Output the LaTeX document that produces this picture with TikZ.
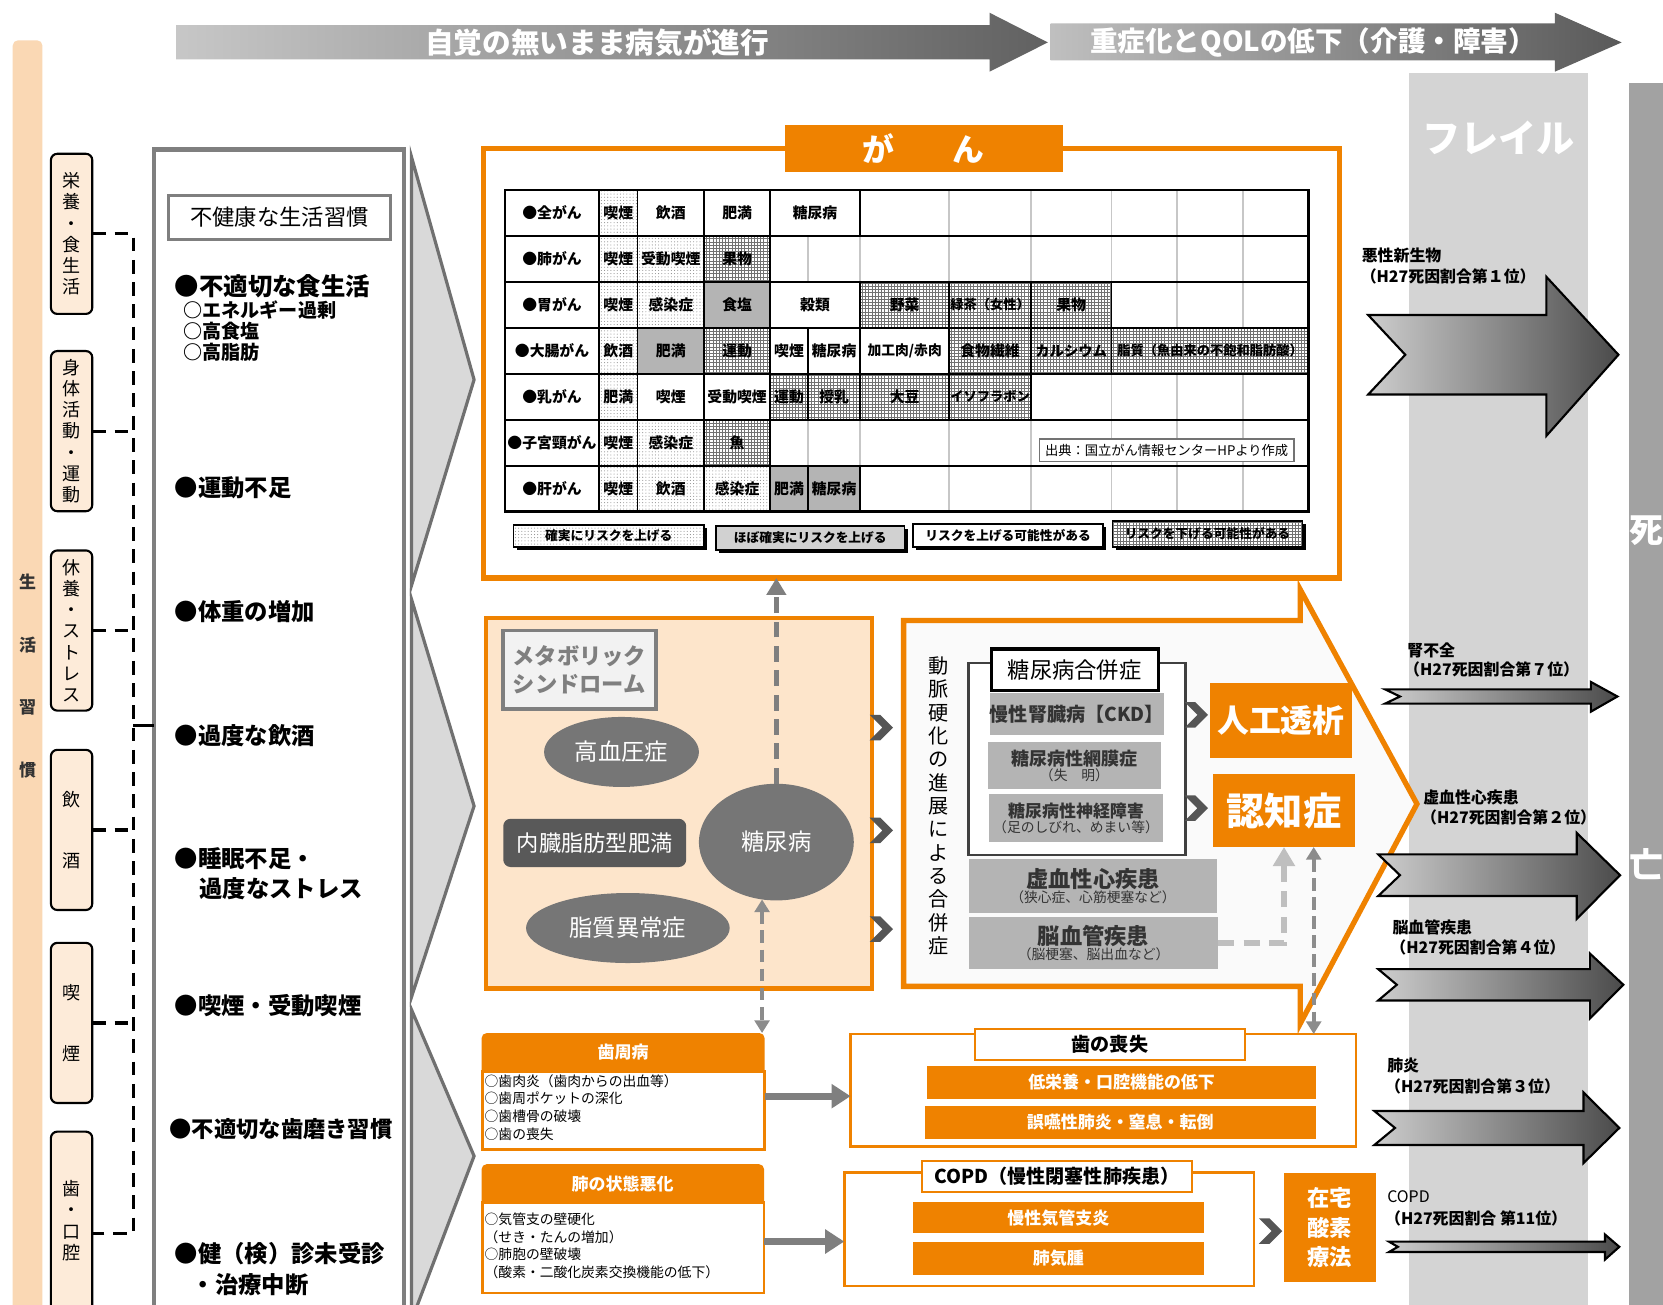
\documentclass[tikz,border=0pt]{standalone}
\usepackage{fontspec}
\setmainfont{Noto Sans CJK JP}
\usetikzlibrary{patterns,arrows.meta,shapes.geometric}
\definecolor{org}{RGB}{239,130,0}
\definecolor{peach}{RGB}{250,216,180}
\definecolor{sboxc}{RGB}{253,235,217}
\definecolor{metab}{RGB}{253,229,203}
\definecolor{ellc}{RGB}{118,118,118}
\definecolor{darkc}{RGB}{89,89,89}
\definecolor{compg}{RGB}{180,180,180}
\definecolor{frailc}{RGB}{212,212,212}
\definecolor{deathc}{RGB}{162,162,162}
\definecolor{boxgray}{RGB}{127,127,127}
\definecolor{chevc}{RGB}{85,85,85}
\definecolor{lgray}{RGB}{191,191,191}
\definecolor{mgray}{RGB}{140,140,140}
\definecolor{dgl}{RGB}{205,205,205}
\definecolor{dgr}{RGB}{75,75,75}
\definecolor{bigchevf}{RGB}{217,217,217}
\definecolor{bigchevd}{RGB}{112,112,112}
\newcommand\fsz[2]{\fontsize{#1}{#2}\selectfont}
\newcommand\chev[2]{\fill[chevc] (#1,#2) ++(-11,-12) -- ++(10,0) -- ++(12,12) -- ++(-12,12) -- ++(-10,0) -- ++(12,-12) -- cycle;}
\newcommand\darrow[9]{\path[draw=black,line width=2pt,line join=miter,left color=dgl,right color=dgr] (#1,#3) -- (#5,#3) -- (#5,#6) -- (#8,#9) -- (#5,#7) -- (#5,#4) -- (#1,#4) -- (#2,#9) -- cycle;}
% box by corners: options, name, x1, y1, x2, y2, text
\newcommand\bx[7]{\node[#1,minimum width={#5-#3},minimum height={#6-#4}] (#2) at ({(#3+#5)/2},{(#4+#6)/2}) {#7};}
\newcommand\tcell[5]{%
 \pgfmathsetmacro\tya{179+43.33*(#3-1)}%
 \pgfmathsetmacro\tyb{179+43.33*#3}%
 \bx{cell#4}{t#3-#1}{#1}{\tya}{#2}{\tyb}{#5}}
\begin{document}
\begin{tikzpicture}[x=1pt,y=-1pt,
  every node/.style={inner sep=0pt,outer sep=0pt},
  cellbase/.style={draw=black,line width=1.5pt,inner sep=0pt,font=\bfseries\fsz{14}{16}},
  cellw/.style={cellbase,fill=white},
  cellg/.style={cellbase,fill=compg},
  celld/.style={cellbase,preaction={fill=white},pattern=dots,pattern color=black!45},
  cellk/.style={cellbase,preaction={fill=white},pattern=grid,pattern color=black!55},
  sbox/.style={draw=black,line width=2pt,fill=sboxc,rounded corners=6pt,align=center,font=\fsz{17}{20}},
  ltxt/.style={anchor=west,font=\bfseries\fsz{22}{26}},
  dl/.style={draw=black,line width=3pt,dash pattern=on 13pt off 8pt},
  bigchev/.style={fill=bigchevf,draw=bigchevd,line width=3pt,line join=miter},
  obar/.style={fill=org,text=white,font=\bfseries\fsz{16}{19}},
  compbox/.style={fill=compg,align=center,text=black!80},
  lab/.style={anchor=west,font=\bfseries\fsz{15}{17}},
  head/.style={fill=org,rounded corners=5pt}
]
\useasboundingbox (0,0) rectangle (1568,1230);
\fill[white] (0,0) rectangle (1568,1230);

% ---------- right columns ----------
\fill[frailc] (1328.5,68.5) rectangle (1497.5,1240);
\node[text=white,font=\bfseries\fsz{36}{40}] (frail) at (1413,130) {フレイル};
\fill[deathc] (1536,78) rectangle (1590,1240);
\node[text=white,font=\bfseries\fsz{32}{36}] (shi) at (1552,500) {死};
\node[text=white,font=\bfseries\fsz{32}{36}] (bou) at (1552,815) {亡};

% ---------- top banners ----------
\path[left color=black!22,right color=black!62] (166,23.6) -- (933,23.6) -- (933,12) -- (988,40) -- (933,67.6) -- (933,56) -- (166,56) -- cycle;
\node[text=white,font=\bfseries\fsz{27}{30}] (ban1) at (563,40) {自覚の無いまま病気が進行};
\path[left color=black!25,right color=black!65] (990.5,22) -- (1466,22) -- (1466,12) -- (1529,40) -- (1466,67.6) -- (1466,57) -- (990.5,57) -- cycle;
\node[text=white,font=\bfseries\fsz{26}{30}] (ban2) at (1238,40) {重症化とQOLの低下（介護・障害）};

% ---------- left peach bar ----------
\fill[peach,rounded corners=5pt] (12,38) rectangle (40,1245);
\node[font=\bfseries\fsz{16}{18},text=black!80] (s1) at (26,549) {生};
\node[font=\bfseries\fsz{16}{18},text=black!80] (s2) at (26,608) {活};
\node[font=\bfseries\fsz{16}{18},text=black!80] (s3) at (26,667) {習};
\node[font=\bfseries\fsz{16}{18},text=black!80] (s4) at (26,726) {慣};

% ---------- small boxes ----------
\bx{sbox}{b1}{48}{145}{87}{296}{栄\\養\\・\\食\\生\\活}
\bx{sbox}{b2}{48}{331}{87}{482}{身\\体\\活\\動\\・\\運\\動}
\bx{sbox}{b3}{48}{519}{87}{670}{休\\養\\・\\ス\\ト\\レ\\ス}
\bx{sbox}{b4}{48}{707}{87}{858}{飲\\[37pt]酒}
\bx{sbox}{b5}{48}{889}{87}{1040}{喫\\[38pt]煙}
\bx{sbox}{b6}{48}{1067}{87}{1259}{}
\node[align=center,font=\fsz{17}{20}] (b6t) at (67.5,1151) {歯\\・\\口\\腔};

% ---------- big left box ----------
\bx{draw=boxgray,line width=4pt,fill=white}{big}{145}{141}{381}{1245}{}
\bx{draw=boxgray,line width=3pt,fill=white,font=\fsz{21}{24}}{unh}{159}{184}{368}{226}{不健康な生活習慣}
\node[ltxt,font=\bfseries\fsz{23}{26}] (l1) at (165,270) {●不適切な食生活};
\node[ltxt,font=\bfseries\fsz{18}{20}] (l1a) at (173,292) {○エネルギー過剰};
\node[ltxt,font=\bfseries\fsz{18}{20}] (l1b) at (173,312) {○高食塩};
\node[ltxt,font=\bfseries\fsz{18}{20}] (l1c) at (173,332) {○高脂肪};
\node[ltxt] (l2) at (165,460) {●運動不足};
\node[ltxt] (l3) at (165,577) {●体重の増加};
\node[ltxt] (l4) at (165,694) {●過度な飲酒};
\node[ltxt] (l5) at (165,810) {●睡眠不足・};
\node[ltxt] (l5b) at (188,838) {過度なストレス};
\node[ltxt] (l6) at (165,948) {●喫煙・受動喫煙};
\node[ltxt,font=\bfseries\fsz{21}{24}] (l7) at (160,1065) {●不適切な歯磨き習慣};
\node[ltxt] (l8) at (165,1182) {●健（検）診未受診};
\node[ltxt] (l8b) at (181,1211) {・治療中断};

% ---------- dashed tree ----------
\coordinate (trunk) at (125.5,0);
\coordinate (tj) at (125.5,684);
\draw[dl] (b1.east) -- (b1.east -| trunk) -- (b6.east -| trunk) -- (b6.east);
\draw[dl] (b2.east) -- (b2.east -| trunk);
\draw[dl] (b3.east) -- (b3.east -| trunk);
\draw[dl] (b4.east) -- (b4.east -| trunk);
\draw[dl] (b5.east) -- (b5.east -| trunk);
\draw[dl,dash pattern=on 30pt off 0pt] (tj) -- (tj -| big.west);

% ---------- big chevrons ----------
\path[bigchev] (388,148) -- (447,358) -- (388,552) -- cycle;
\path[bigchev] (388,565) -- (447,760) -- (388,940) -- cycle;
\path[bigchev] (388,952) -- (447,1090) -- (388,1245) -- cycle;

% ---------- cancer box ----------
\bx{draw=org,line width=5pt,fill=white}{gan}{456}{140}{1263}{545}{}
\bx{fill=org,text=white,font=\bfseries\fsz{30}{32}}{ganhead}{740}{118}{1002}{162}{が\hspace{55pt}ん}
\fill[white] (476,179) rectangle (1234,482.3);
\foreach \xx in {601,664,726,762,811,895,972,1048,1110,1172}
  \draw[black!22,line width=1.5pt] (\xx,179) -- (\xx,482.3);
% row 1
\tcell{476}{565}{1}{w}{●全がん}
\tcell{565}{601}{1}{d}{喫煙}
\tcell{601}{664}{1}{w}{飲酒}
\tcell{664}{726}{1}{w}{肥満}
\tcell{726}{811}{1}{w}{糖尿病}
% row 2
\tcell{476}{565}{2}{w}{●肺がん}
\tcell{565}{601}{2}{d}{喫煙}
\tcell{601}{664}{2}{d}{受動喫煙}
\tcell{664}{726}{2}{k}{果物}
% row 3
\tcell{476}{565}{3}{w}{●胃がん}
\tcell{565}{601}{3}{d}{喫煙}
\tcell{601}{664}{3}{d}{感染症}
\tcell{664}{726}{3}{g}{食塩}
\tcell{726}{811}{3}{w}{穀類}
\tcell{811}{895}{3}{k}{野菜}
\tcell{895}{972}{3}{k}{\fsz{12.5}{14}緑茶（女性）}
\tcell{972}{1048}{3}{k}{果物}
% row 4
\tcell{476}{565}{4}{w}{●大腸がん}
\tcell{565}{601}{4}{d}{飲酒}
\tcell{601}{664}{4}{g}{肥満}
\tcell{664}{726}{4}{k}{運動}
\tcell{726}{762}{4}{w}{喫煙}
\tcell{762}{811}{4}{w}{糖尿病}
\tcell{811}{895}{4}{w}{\fsz{13}{15}加工肉/赤肉}
\tcell{895}{972}{4}{k}{食物繊維}
\tcell{972}{1048}{4}{k}{\fsz{13.5}{15}カルシウム}
\tcell{1048}{1234}{4}{k}{\fsz{12.5}{14}脂質（魚由来の不飽和脂肪酸）}
% row 5
\tcell{476}{565}{5}{w}{●乳がん}
\tcell{565}{601}{5}{d}{肥満}
\tcell{601}{664}{5}{w}{喫煙}
\tcell{664}{726}{5}{w}{受動喫煙}
\tcell{726}{762}{5}{k}{運動}
\tcell{762}{811}{5}{k}{授乳}
\tcell{811}{895}{5}{k}{大豆}
\tcell{895}{972}{5}{k}{\fsz{12.5}{14}イソフラボン}
% row 6
\tcell{476}{565}{6}{w}{●子宮頸がん}
\tcell{565}{601}{6}{d}{喫煙}
\tcell{601}{664}{6}{d}{感染症}
\tcell{664}{726}{6}{k}{魚}
% row 7
\tcell{476}{565}{7}{w}{●肝がん}
\tcell{565}{601}{7}{d}{喫煙}
\tcell{601}{664}{7}{d}{飲酒}
\tcell{664}{726}{7}{d}{感染症}
\tcell{726}{762}{7}{g}{肥満}
\tcell{762}{811}{7}{g}{糖尿病}
\foreach \yy in {222.3,265.7,309,352.3,395.7,439}
  \draw[black,line width=2pt] (476,\yy) -- (1234,\yy);
\draw[black,line width=2.5pt] (476,179) rectangle (1234,482.3);
\bx{draw=black!55,line width=1.5pt,fill=white,font=\fsz{12.5}{14}}{src}{980}{414}{1220}{435}{出典：国立がん情報センターHPより作成}
% legend
\fill[black] (487,498) rectangle (667,519);
\bx{celld,font=\bfseries\fsz{12}{14}}{lg1}{484}{495}{664}{516}{確実にリスクを上げる}
\fill[black] (678,499) rectangle (856,521.6);
\bx{cellbase,fill=black!18,font=\bfseries\fsz{12}{14}}{lg2}{675}{496}{853}{518.6}{ほぼ確実にリスクを上げる}
\fill[black] (864,497) rectangle (1043,519);
\bx{cellw,font=\bfseries\fsz{12}{14}}{lg3}{861}{494}{1040}{516}{リスクを上げる可能性がある}
\fill[black] (1052,494) rectangle (1231,519);
\bx{cellk,font=\bfseries\fsz{12}{14}}{lg4}{1049}{491}{1228}{516}{リスクを下げる可能性がある}

% ---------- metabolic box ----------
\bx{draw=org,line width=4pt,fill=metab}{meta}{458}{583}{822}{932}{}
\bx{draw=boxgray,line width=3.5pt,fill=black!5,align=center,text=boxgray,font=\bfseries\fsz{21}{26}}{mets}{474}{594.6}{618.5}{668.5}{メタボリック\\シンドローム}
\node[ellipse,fill=ellc,minimum width=146pt,minimum height=66pt,text=white,font=\fsz{22}{24}] (kouketsu) at (586,709) {高血圧症};
\bx{fill=darkc,rounded corners=7pt,text=white,font=\fsz{21}{24}}{naizo}{474.5}{772}{647}{817.5}{内臓脂肪型肥満}
\node[ellipse,fill=ellc,minimum width=146pt,minimum height=110pt,text=white,font=\fsz{22}{24}] (tonyo) at (732,794) {糖尿病};
\node[ellipse,fill=ellc,minimum width=192pt,minimum height=66pt,text=white,font=\fsz{22}{24}] (shishitsu) at (592,875) {脂質異常症};
\chev{831}{686}
\chev{831}{783}
\chev{831}{876}

% ---------- complications arrow ----------
\path[draw=org,line width=5pt,fill=black!2,line join=miter] (852,585) -- (1226,585) -- (1226,556) -- (1336,758) -- (1226,965) -- (1226,930) -- (852,930) -- cycle;
\node[align=center,font=\fsz{19}{22}] (domyaku) at (884.5,760) {動\\脈\\硬\\化\\の\\進\\展\\に\\よ\\る\\合\\併\\症};
\bx{draw=black!75,line width=2.5pt,fill=white}{tgroup}{913}{625}{1118}{806}{}
\bx{draw=black,line width=3pt,fill=white,font=\fsz{21}{24}}{tgtitle}{934.5}{612}{1092}{651}{糖尿病合併症}
\bx{compbox,font=\bfseries\fsz{18}{20}}{ckd}{934.5}{653}{1096}{693}{慢性腎臓病【CKD】}
\bx{compbox}{retina}{931.5}{700}{1094.6}{744}{{\bfseries\fsz{17}{19}糖尿病性網膜症}\\{\fsz{13}{15}（失　明）}}
\bx{compbox}{neuro}{932.5}{749}{1096.6}{794}{{\bfseries\fsz{16}{19}糖尿病性神経障害}\\{\fsz{13}{15}（足のしびれ、めまい等）}}
\bx{compbox}{kyoketsu}{913.6}{810}{1147.5}{861}{{\bfseries\fsz{21}{23}虚血性心疾患}\\{\fsz{13}{15}（狭心症、心筋梗塞など）}}
\bx{compbox}{nou}{913.6}{865}{1148.6}{913.6}{{\bfseries\fsz{21}{23}脳血管疾患}\\{\fsz{13}{15}（脳梗塞、脳出血など）}}
\bx{fill=org,text=white,font=\bfseries\fsz{30}{32}}{jinko}{1140.5}{644}{1275}{715}{人工透析}
\bx{fill=org,text=white,font=\bfseries\fsz{36}{38}}{ninchi}{1143.7}{730}{1277.6}{798.6}{認知症}
\chev{1128}{674}
\chev{1128}{762}

% ---------- bottom boxes ----------
\bx{head}{shishuh}{454}{974}{721}{1016}{}
\node[text=white,font=\bfseries\fsz{16}{19}] (shishuht) at (587.5,992) {歯周病};
\bx{draw=org,line width=2.5pt,fill=white}{shishu}{455}{1010}{721}{1083.7}{}
\node[anchor=north west,align=left,font=\fsz{13}{16.7}] (shishut) at (457,1013) {○歯肉炎（歯肉からの出血等）\\○歯周ポケットの深化\\○歯槽骨の破壊\\○歯の喪失};
\bx{head}{haih}{454}{1097.6}{720.5}{1140}{}
\node[text=white,font=\bfseries\fsz{16}{19}] (haiht) at (587,1116) {肺の状態悪化};
\bx{draw=org,line width=2.5pt,fill=white}{hai}{455}{1134}{720.5}{1219}{}
\node[anchor=north west,align=left,font=\fsz{13}{16.7}] (hait) at (457,1143.5) {○気管支の壁硬化\\（せき・たんの増加）\\○肺胞の壁破壊\\（酸素・二酸化炭素交換機能の低下）};

\bx{draw=org,line width=2.5pt,fill=white}{hanosou}{802}{975}{1278.4}{1081}{}
\bx{draw=org,line width=2pt,fill=white,font=\bfseries\fsz{18}{20}}{hanosout}{919}{970.5}{1174}{999.5}{歯の喪失}
\bx{obar}{teiei}{874.5}{1005}{1240.5}{1036}{低栄養・口腔機能の低下}
\bx{obar}{goen}{872}{1043}{1240.5}{1073.6}{誤嚥性肺炎・窒息・転倒}

\bx{draw=org,line width=2.5pt,fill=white}{copd}{796}{1105.7}{1182.4}{1212.6}{}
\bx{draw=org,line width=2pt,fill=white,font=\bfseries\fsz{18}{20}}{copdt}{869.7}{1094.4}{1123.5}{1123.6}{COPD（慢性閉塞性肺疾患）}
\bx{obar}{mansei}{861}{1133.6}{1134.8}{1163}{慢性気管支炎}
\bx{obar}{kishu}{861}{1171.3}{1134.8}{1201.8}{肺気腫}
\chev{1198}{1160.7}
\bx{fill=org,align=center,text=white,font=\bfseries\fsz{21}{28}}{zaitaku}{1210.6}{1106}{1297.4}{1209}{在宅\\酸素\\療法}

% gray block arrows
\draw[boxgray,line width=6.5pt,-{Triangle[length=18pt,width=22pt]}] ([yshift=13.3pt]shishu.east) -- ([yshift=13.3pt]shishu.east -| hanosou.west);
\draw[boxgray,line width=6.5pt,-{Triangle[length=18pt,width=22pt]}] ([yshift=5.9pt]hai.east) -- ([yshift=5.9pt]hai.east -| copd.west);

% dashed connectors
\draw[boxgray,line width=5pt,dash pattern=on 15pt off 8pt,-{Triangle[length=16pt,width=18pt]}] (tonyo.north) -- (tonyo.north |- gan.south);
\draw[mgray,line width=4pt,dash pattern=on 12pt off 6pt,{Triangle[length=12pt,width=14pt]}-{Triangle[length=12pt,width=14pt]}] (tonyo.256) -- (tonyo.256 |- shishuh.north);
\draw[lgray,line width=6pt,dash pattern=on 15pt off 9pt,-{Triangle[length=18pt,width=20pt]}] (nou.east) -| (ninchi.south);
\draw[mgray,line width=4pt,dash pattern=on 12pt off 6pt,{Triangle[length=12pt,width=14pt]}-{Triangle[length=12pt,width=14pt]}] ([xshift=28pt]ninchi.south) -- ([xshift=28pt]ninchi.south |- hanosou.north);

% ---------- death-cause arrows ----------
\darrow{1290}{1325}{297}{372}{1458}{261}{411}{1526}{334.5}
\darrow{1306}{1320}{650}{663.4}{1500}{643}{671}{1525}{656.7}
\darrow{1299.5}{1320}{805.6}{844.8}{1486.6}{785.3}{866.5}{1527.5}{825.2}
\darrow{1299.5}{1317}{913.8}{943.3}{1499}{899}{960.3}{1530.6}{928.5}
\darrow{1295.8}{1315.3}{1047.5}{1079.6}{1493}{1030}{1096.7}{1526.8}{1063.5}
\darrow{1309.6}{1318}{1170.7}{1180.5}{1513.3}{1164}{1187.6}{1526.8}{1175.6}
\node[lab] (d1a) at (1284,241) {悪性新生物};
\node[lab] (d1b) at (1283,261) {（H27死因割合第１位）};
\node[lab] (d2a) at (1327,613.5) {腎不全};
\node[lab] (d2b) at (1324,631.4) {（H27死因割合第７位）};
\node[lab] (d3a) at (1342,752) {虚血性心疾患};
\node[lab] (d3b) at (1340,770.6) {（H27死因割合第２位）};
\node[lab] (d4a) at (1313,874.6) {脳血管疾患};
\node[lab] (d4b) at (1311,893.3) {（H27死因割合第４位）};
\node[lab] (d5a) at (1308,1005) {肺炎};
\node[lab] (d5b) at (1306,1024) {（H27死因割合第３位）};
\node[lab,font=\fsz{15}{17}] (d6a) at (1308,1128) {COPD};
\node[lab] (d6b) at (1306,1148.4) {（H27死因割合 第11位）};
\end{tikzpicture}
\end{document}
